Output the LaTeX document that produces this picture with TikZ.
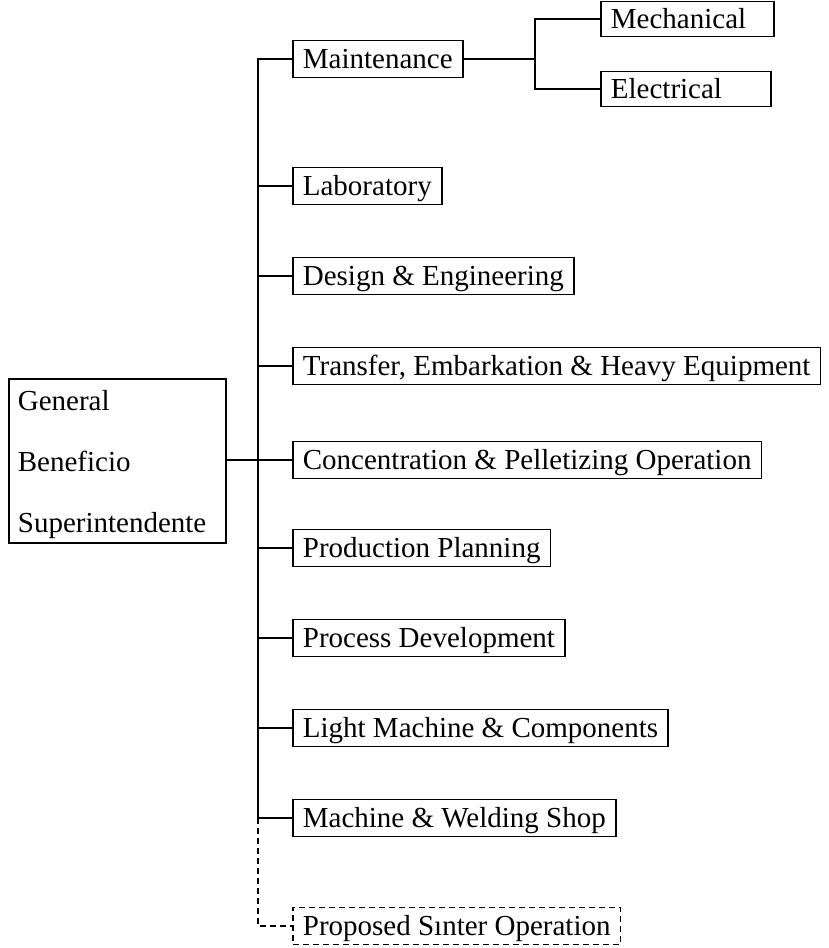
\documentclass[tikz,border=0pt]{standalone}
\usepackage{fontspec}
\setmainfont{Liberation Serif}
\begin{document}
\begin{tikzpicture}[x=1pt,y=-1pt,
  every node/.style={font=\fontsize{29}{35}\selectfont},
  unit/.style={draw, line width=1.8pt, anchor=west, inner xsep=10pt, minimum height=37pt,
    inner ysep=0pt, text height=23pt, text depth=5pt},
  subunit/.style={unit, minimum height=35pt},
  propunit/.style={unit, dash pattern=on 6pt off 4pt},
  link/.style={line width=1.8pt},
  proplink/.style={line width=1.8pt, dash pattern=on 6pt off 4pt}]
\useasboundingbox (0,0) rectangle (828,948);

\node[draw, line width=1.8pt, align=left, anchor=north west, inner xsep=9pt,
      text width=199pt, minimum height=164pt] (gen) at (8,378)
      {\rule{0pt}{28pt}General\\[26pt]Beneficio\\[26pt]Superintendente};

\node[unit] (maint) at (292,59) {Maintenance};
\node[subunit, text width=153pt] (mech) at (600,19) {Mechanical};
\node[subunit, text width=150pt] (elec) at (600,89) {Electrical};
\node[unit] (lab) at (292,186) {Laboratory};
\node[unit] (design) at (292,276) {Design \& Engineering};
\node[unit] (transfer) at (292,366) {Transfer, Embarkation \& Heavy Equipment};
\node[unit] (conc) at (292,460) {Concentration \& Pelletizing Operation};
\node[unit] (prod) at (292,548) {Production Planning};
\node[unit] (proc) at (292,638) {Process Development};
\node[unit] (light) at (292,728) {Light Machine \& Components};
\node[unit] (mws) at (292,818) {Machine \& Welding Shop};
\node[propunit] (sinter) at (292,926) {Proposed Sınter Operation};

\coordinate (trunk) at (258,0);
\coordinate (mb) at (535,0);

\draw[link] (maint.west) -- (maint.west -| trunk) -- (mws.west -| trunk) -- (mws.west);
\foreach \n in {lab,design,transfer,prod,proc,light}
  \draw[link] (\n.west -| trunk) -- (\n.west);
\draw[link] (conc.west -| gen.east) -- (conc.west);
\draw[proplink] (mws.west -| trunk) |- (sinter.west);

\draw[link] (maint.east) -- (maint.east -| mb);
\draw[link] (mech.west) -| (mb |- elec.west) -- (elec.west);
\end{tikzpicture}
\end{document}
